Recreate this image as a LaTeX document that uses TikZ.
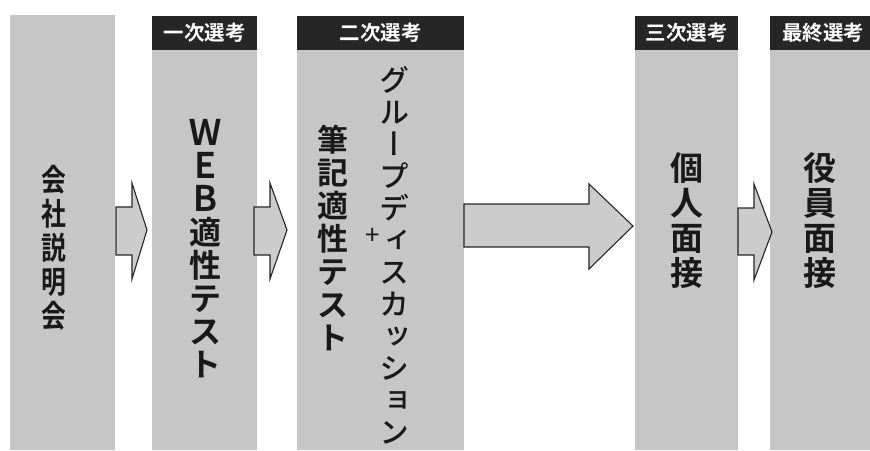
\documentclass[tikz,border=0pt]{standalone}
\usepackage{fontspec}
\newfontfamily\jp{Noto Sans CJK JP}
\newfontfamily\jpv[RawFeature=+vert]{Noto Sans CJK JP Medium}
\newfontfamily\jpb{Noto Sans CJK JP Bold}
\definecolor{colgray}{RGB}{198,198,198}
\definecolor{hdrdark}{RGB}{38,38,38}
\tikzset{
  colbox/.style={fill=colgray, draw=none},
  hdrbox/.style={fill=hdrdark, draw=none},
  hdrtext/.style={text=white, font=\jpb\fontsize{20.5}{22}\selectfont, inner sep=0pt},
  arrowshape/.style={fill=colgray!90!white, draw=black!85, line width=1.1pt, line join=miter},
  vtext/.style={align=center, inner sep=0pt, text=black!90},
}
\newcommand{\tallL}[1]{\scalebox{1}[1.1]{#1}}
\begin{document}
\begin{tikzpicture}[x=1pt,y=-1pt]
\useasboundingbox (0,0) rectangle (870,450);
\fill[white] (0,0) rectangle (870,450);
% columns
\path[colbox] (10,15) rectangle (115,450);
\path[colbox] (152,50) rectangle (257,450);
\path[colbox] (297,50) rectangle (464,450);
\path[colbox] (635,50) rectangle (738,450);
\path[colbox] (770,50) rectangle (870,450);
% headers
\path[hdrbox] (152,16) rectangle (257,50);
\path[hdrbox] (297,16) rectangle (464,50);
\path[hdrbox] (635,16) rectangle (738,50);
\path[hdrbox] (770,16) rectangle (870,50);
\node[hdrtext] (h1) at (204.5,33) {一次選考};
\node[hdrtext] (h2) at (380.5,33) {二次選考};
\node[hdrtext] (h3) at (686.5,33) {三次選考};
\node[hdrtext] (h4) at (823,33) {最終選考};
% arrows
\draw[arrowshape] (116,207) -- (132,207) -- (132,183) -- (147,230) -- (132,279) -- (132,255) -- (116,255) -- cycle;
\draw[arrowshape] (254,207) -- (270,207) -- (270,183) -- (287,230) -- (270,279) -- (270,255) -- (254,255) -- cycle;
\draw[arrowshape] (464,204) -- (589,204) -- (589,184) -- (633,226) -- (589,269) -- (589,247) -- (464,247) -- cycle;
\draw[arrowshape] (738,208) -- (754,208) -- (754,184) -- (772,232) -- (754,280) -- (754,255) -- (738,255) -- cycle;
% texts
\node[vtext, font=\jpb\fontsize{31}{34}\selectfont] (t1) at (54,248) {\scalebox{0.8}[1]{会}\\\scalebox{0.8}[1]{社}\\\scalebox{0.8}[1]{説}\\\scalebox{0.8}[1]{明}\\\scalebox{0.8}[1]{会}};
\node[vtext, font=\jpb\fontsize{32}{33}\selectfont] (t2) at (205,249) {\tallL{Ｗ}\\\tallL{Ｅ}\\\tallL{Ｂ}\\適\\性\\テ\\ス\\ト};
\node[vtext, font=\jpb\fontsize{31}{33}\selectfont] (t3) at (333,238) {筆\\記\\適\\性\\テ\\ス\\ト};
\node[vtext, font=\jpv\fontsize{30}{32}\selectfont] (t4) at (394,255) {グ\\ル\\ー\\プ\\デ\\ィ\\ス\\カ\\ッ\\シ\\ョ\\ン};
\node[vtext, font=\jp\fontsize{26}{26}\selectfont] (plus) at (373,236) {+};
\node[vtext, font=\jpb\fontsize{33}{35}\selectfont] (t5) at (687,221) {個\\人\\面\\接};
\node[vtext, font=\jpb\fontsize{33}{35}\selectfont] (t6) at (820,221) {役\\員\\面\\接};
\end{tikzpicture}
\end{document}
